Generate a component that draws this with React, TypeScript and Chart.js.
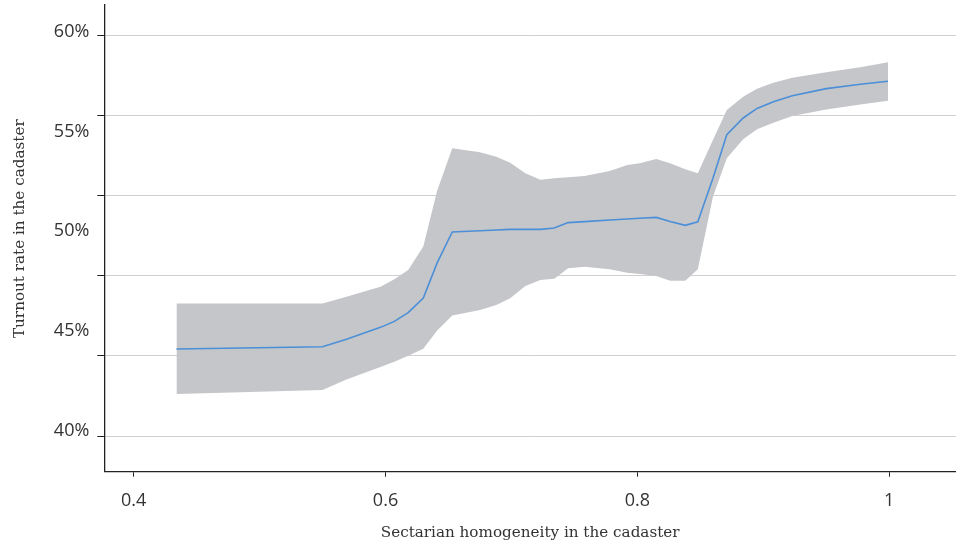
import React, { useEffect, useRef } from 'react';
import Chart from 'chart.js/auto';

// Sectarian homogeneity (x) and predicted turnout with its confidence band (y, %)
const homogeneity = [
  0.434, 0.55, 0.569, 0.596, 0.607, 0.618, 0.63, 0.641, 0.653, 0.675, 0.688,
  0.699, 0.711, 0.723, 0.734, 0.745, 0.758, 0.778, 0.792, 0.802, 0.815, 0.826,
  0.838, 0.848, 0.86, 0.871, 0.884, 0.895, 0.908, 0.923, 0.95, 0.977, 0.999,
];
const turnout = [
  44.11, 44.22, 44.59, 45.19, 45.49, 45.93, 46.66, 48.42, 49.97, 50.03, 50.07,
  50.1, 50.1, 50.1, 50.17, 50.44, 50.49, 50.57, 50.62, 50.66, 50.7, 50.49,
  50.3, 50.48, 52.66, 54.84, 55.68, 56.16, 56.49, 56.79, 57.15, 57.37, 57.52,
];
const upperBound = [
  46.38, 46.38, 46.73, 47.23, 47.6, 48.06, 49.24, 52.04, 54.16, 53.96, 53.74,
  53.44, 52.91, 52.59, 52.66, 52.71, 52.77, 53.02, 53.32, 53.41, 53.62, 53.41,
  53.11, 52.91, 54.58, 56.08, 56.74, 57.15, 57.45, 57.7, 57.97, 58.22, 58.47,
];
const lowerBound = [
  41.85, 42.05, 42.58, 43.2, 43.47, 43.77, 44.12, 45.03, 45.79, 46.06, 46.31,
  46.65, 47.26, 47.56, 47.63, 48.15, 48.23, 48.1, 47.93, 47.86, 47.76, 47.53,
  47.53, 48.1, 51.74, 53.66, 54.61, 55.11, 55.44, 55.78, 56.11, 56.36, 56.54,
];

const xTicks = [0.4, 0.6, 0.8, 1];
const yLabelTicks = [40, 45, 50, 55, 60];
const yGridTicks = [40, 44, 48, 52, 56, 60];

const tickFont = { family: '"Open Sans", sans-serif', size: 18 };
const titleFont = { family: '"DejaVu Serif", serif', size: 15.2 };
const textColor = '#333333';
const axisColor = '#222222';

const toPoints = (ys: number[]) => homogeneity.map((x, i) => ({ x, y: ys[i] }));

const App: React.FC = () => {
  const canvasRef = useRef<HTMLCanvasElement>(null);
  const chartRef = useRef<Chart | null>(null);

  useEffect(() => {
    if (!canvasRef.current) return;
    if (chartRef.current) chartRef.current.destroy();

    chartRef.current = new Chart(canvasRef.current, {
      type: 'line',
      data: {
        datasets: [
          {
            label: 'Turnout',
            data: toPoints(turnout),
            borderColor: '#4a8fd8',
            borderWidth: 1.6,
            pointRadius: 0,
            fill: false,
            tension: 0,
          },
          {
            label: 'Upper',
            data: toPoints(upperBound),
            borderWidth: 0,
            borderColor: 'rgba(0,0,0,0)',
            backgroundColor: '#c5c6c9',
            pointRadius: 0,
            fill: '+1',
            tension: 0,
          },
          {
            label: 'Lower',
            data: toPoints(lowerBound),
            borderWidth: 0,
            borderColor: 'rgba(0,0,0,0)',
            pointRadius: 0,
            fill: false,
            tension: 0,
          },
        ],
      },
      options: {
        responsive: true,
        maintainAspectRatio: false,
        animation: false,
        layout: { padding: { top: 5, left: 0, right: 0, bottom: 0 } },
        plugins: {
          legend: { display: false },
          tooltip: { enabled: false },
        },
        scales: {
          x: {
            type: 'linear',
            position: 'bottom',
            min: 0.3767,
            max: 1.053,
            afterBuildTicks: (axis: any) => {
              axis.ticks = xTicks.map((v) => ({ value: v }));
            },
            afterFit: (axis: any) => {
              axis.height = 70.3;
              axis.paddingLeft = 0;
              axis.paddingRight = 0;
            },
            ticks: {
              font: tickFont,
              color: textColor,
              padding: 13.5,
              maxRotation: 0,
              callback: (v: any) => String(v),
            },
            grid: {
              display: true,
              drawOnChartArea: false,
              tickLength: 5,
              tickColor: axisColor,
            },
            border: { display: true, color: axisColor, width: 1.3 },
            title: {
              display: true,
              text: 'Sectarian homogeneity in the cadaster',
              font: titleFont,
              color: textColor,
              padding: { top: 12, bottom: 0 },
            },
          },
          y: {
            type: 'linear',
            position: 'left',
            weight: 1,
            min: 37.96,
            max: 61.34,
            afterBuildTicks: (axis: any) => {
              axis.ticks = yLabelTicks.map((v) => ({ value: v }));
            },
            afterFit: (axis: any) => {
              axis.width = 97.3;
              axis.paddingTop = 0;
              axis.paddingBottom = 0;
            },
            ticks: {
              font: tickFont,
              color: textColor,
              padding: 8,
              callback: (v: any) => `${v}%`,
            },
            grid: { display: false, drawTicks: false },
            border: { display: false },
            title: {
              display: true,
              // leading spaces nudge the rotated title up to where the original sits
              text: '    Turnout rate in the cadaster',
              font: titleFont,
              color: textColor,
              padding: { top: 11, bottom: 0 },
            },
          },
          yGrid: {
            type: 'linear',
            position: 'left',
            weight: 0,
            min: 38.22,
            max: 61.5,
            afterBuildTicks: (axis: any) => {
              axis.ticks = yGridTicks.map((v) => ({ value: v }));
            },
            afterFit: (axis: any) => {
              axis.width = 7;
              axis.paddingTop = 0;
              axis.paddingBottom = 0;
            },
            ticks: { display: false },
            grid: {
              color: '#cfcfcf',
              lineWidth: 1,
              tickLength: 7,
              tickColor: axisColor,
            },
            border: { display: true, color: axisColor, width: 1.3 },
          },
        },
      },
    });

    return () => {
      if (chartRef.current) {
        chartRef.current.destroy();
        chartRef.current = null;
      }
    };
  }, []);

  return (
    <div style={{ position: 'absolute', left: 0, top: 0, width: '956px', height: '542px', background: '#ffffff' }}>
      <canvas ref={canvasRef}></canvas>
    </div>
  );
};

export default App;
